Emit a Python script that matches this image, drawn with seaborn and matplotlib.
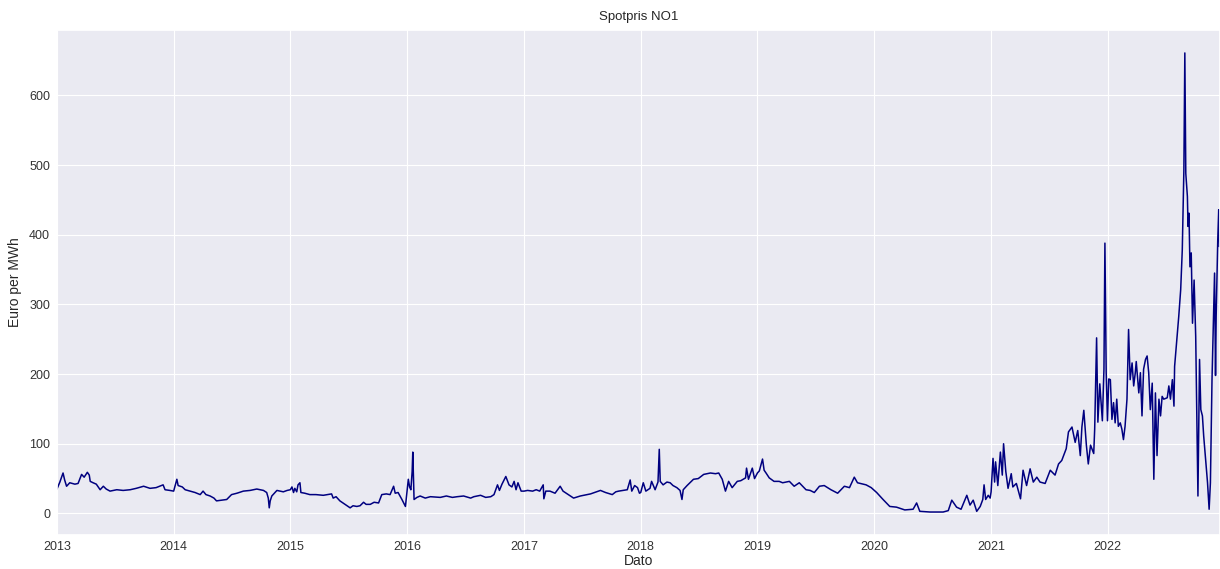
import matplotlib
matplotlib.use("Agg")
import matplotlib.pyplot as plt
import matplotlib.dates as mdates
import seaborn as sns
import pandas as pd

dates = [
    # 2013
    "2013-01-01", "2013-01-10", "2013-01-20", "2013-01-25", "2013-01-31", "2013-02-10", "2013-02-26",
    "2013-03-08", "2013-03-14", "2013-03-19", "2013-03-27", "2013-04-06", "2013-04-12", "2013-04-15",
    "2013-04-24", "2013-05-04", "2013-05-16", "2013-05-26", "2013-06-04", "2013-06-16", "2013-07-07",
    "2013-07-27", "2013-08-18", "2013-09-06", "2013-09-29", "2013-10-19", "2013-11-07", "2013-11-29",
    "2013-12-05", "2013-12-20",
    # 2014
    "2014-01-01", "2014-01-11", "2014-01-15", "2014-01-28", "2014-02-06", "2014-02-22", "2014-03-09",
    "2014-03-25", "2014-04-03", "2014-04-12", "2014-04-25", "2014-05-07", "2014-05-15", "2014-06-01",
    "2014-06-16", "2014-07-01", "2014-07-18", "2014-08-07", "2014-08-28", "2014-09-18", "2014-10-09",
    "2014-10-19", "2014-10-24", "2014-10-27", "2014-10-30", "2014-11-04", "2014-11-20", "2014-12-10",
    "2014-12-22",
    # 2015
    "2015-01-01", "2015-01-06", "2015-01-11", "2015-01-15", "2015-01-21", "2015-01-25", "2015-01-31",
    "2015-02-03", "2015-02-15", "2015-03-03", "2015-03-22", "2015-04-14", "2015-04-28", "2015-05-10",
    "2015-05-15", "2015-05-24", "2015-06-05", "2015-06-21", "2015-07-07", "2015-07-16", "2015-07-28",
    "2015-08-07", "2015-08-18", "2015-08-26", "2015-09-08", "2015-09-20", "2015-10-04", "2015-10-14",
    "2015-10-28", "2015-11-09", "2015-11-20", "2015-11-25", "2015-12-04", "2015-12-16", "2015-12-27",
    # 2016
    "2016-01-05", "2016-01-09", "2016-01-13", "2016-01-17", "2016-01-19", "2016-01-23", "2016-02-01",
    "2016-02-11", "2016-02-27", "2016-03-14", "2016-04-14", "2016-05-03", "2016-05-22", "2016-06-06",
    "2016-06-26", "2016-07-18", "2016-07-28", "2016-08-18", "2016-09-03", "2016-09-19", "2016-09-29",
    "2016-10-10", "2016-10-16", "2016-10-24", "2016-11-05", "2016-11-15", "2016-11-24", "2016-12-01",
    "2016-12-07", "2016-12-13", "2016-12-23",
    # 2017
    "2017-01-01", "2017-01-12", "2017-01-28", "2017-02-08", "2017-02-19", "2017-03-02", "2017-03-04",
    "2017-03-10", "2017-03-23", "2017-04-08", "2017-04-24", "2017-05-03", "2017-05-16", "2017-06-05",
    "2017-06-26", "2017-07-28", "2017-08-28", "2017-09-13", "2017-10-04", "2017-10-15", "2017-10-24",
    "2017-11-06", "2017-11-20", "2017-11-29", "2017-12-04", "2017-12-13", "2017-12-22", "2017-12-28",
    # 2018
    "2018-01-01", "2018-01-09", "2018-01-17", "2018-01-30", "2018-02-04", "2018-02-15", "2018-02-24",
    "2018-02-28", "2018-03-03", "2018-03-12", "2018-03-24", "2018-04-03", "2018-04-12", "2018-04-24",
    "2018-05-04", "2018-05-10", "2018-05-14", "2018-05-26", "2018-06-15", "2018-06-30", "2018-07-17",
    "2018-08-07", "2018-08-23", "2018-09-02", "2018-09-13", "2018-09-23", "2018-10-03", "2018-10-14",
    "2018-10-30", "2018-11-10", "2018-11-25", "2018-11-28", "2018-12-04", "2018-12-16", "2018-12-23",
    # 2019
    "2019-01-01", "2019-01-07", "2019-01-17", "2019-01-22", "2019-01-28", "2019-02-07", "2019-02-22",
    "2019-03-10", "2019-03-21", "2019-04-11", "2019-04-26", "2019-05-12", "2019-06-02", "2019-06-15",
    "2019-06-28", "2019-07-14", "2019-07-29", "2019-08-19", "2019-09-09", "2019-09-30", "2019-10-16",
    "2019-10-31", "2019-11-10", "2019-12-07", "2019-12-23",
    # 2020
    "2020-01-09", "2020-01-19", "2020-01-29", "2020-02-19", "2020-03-11", "2020-04-06", "2020-05-02",
    "2020-05-13", "2020-05-23", "2020-06-24", "2020-08-04", "2020-08-20", "2020-08-31", "2020-09-15",
    "2020-09-29", "2020-10-17", "2020-10-27", "2020-11-06", "2020-11-17", "2020-11-28", "2020-12-06",
    "2020-12-10", "2020-12-15", "2020-12-23", "2020-12-29",
    # 2021
    "2021-01-01", "2021-01-07", "2021-01-12", "2021-01-15", "2021-01-22", "2021-01-30", "2021-02-05",
    "2021-02-09", "2021-02-16", "2021-02-23", "2021-03-05", "2021-03-10", "2021-03-21", "2021-04-03",
    "2021-04-11", "2021-04-22", "2021-05-03", "2021-05-13", "2021-05-24", "2021-06-03", "2021-06-19",
    "2021-07-05", "2021-07-20", "2021-07-31", "2021-08-10", "2021-08-24", "2021-08-31", "2021-09-11",
    "2021-09-21", "2021-09-29", "2021-10-07", "2021-10-12", "2021-10-18", "2021-10-26", "2021-11-01",
    "2021-11-08", "2021-11-18", "2021-11-21", "2021-11-27", "2021-12-01", "2021-12-07", "2021-12-15",
    "2021-12-20", "2021-12-23", "2021-12-27", "2021-12-31",
    # 2022
    "2022-01-04", "2022-01-09", "2022-01-14", "2022-01-19", "2022-01-24", "2022-01-29", "2022-02-03",
    "2022-02-09", "2022-02-14", "2022-02-19", "2022-02-24", "2022-03-02", "2022-03-07", "2022-03-12",
    "2022-03-18", "2022-03-23", "2022-03-28", "2022-03-31", "2022-04-08", "2022-04-13", "2022-04-18",
    "2022-04-23", "2022-04-29", "2022-05-04", "2022-05-09", "2022-05-14", "2022-05-20", "2022-05-25",
    "2022-05-30", "2022-06-04", "2022-06-10", "2022-06-15", "2022-06-20", "2022-06-25", "2022-07-06",
    "2022-07-11", "2022-07-16", "2022-07-22", "2022-07-27", "2022-07-29", "2022-08-04", "2022-08-11",
    "2022-08-17", "2022-08-22", "2022-08-27", "2022-08-30", "2022-09-02", "2022-09-07", "2022-09-09",
    "2022-09-12", "2022-09-15", "2022-09-19", "2022-09-23", "2022-09-28", "2022-10-03", "2022-10-06",
    "2022-10-10", "2022-10-15", "2022-10-19", "2022-10-24", "2022-10-28", "2022-11-04", "2022-11-09",
    "2022-11-14", "2022-11-18", "2022-11-23", "2022-12-01", "2022-12-04", "2022-12-06", "2022-12-11",
    "2022-12-14", "2022-12-16", "2022-12-18",
]

prices = [
    # 2013
    35, 45, 58, 48, 39, 44, 42,
    43, 50, 56, 52, 59, 55, 46,
    44, 42, 34, 39, 35, 32, 34,
    33, 34, 36, 39, 36, 37, 41,
    34, 33,
    # 2014
    32, 49, 40, 38, 34, 32, 30,
    27, 32, 27, 25, 22, 18, 19,
    20, 27, 29, 32, 33, 35, 33,
    30, 22, 8, 18, 25, 33, 31,
    33,
    # 2015
    34, 38, 30, 36, 31, 41, 44,
    30, 29, 27, 27, 26, 27, 28,
    22, 24, 18, 13, 8, 11, 10,
    11, 16, 13, 13, 16, 15, 27,
    28, 27, 39, 29, 30, 20, 10,
    # 2016
    49, 38, 34, 60, 88, 20, 23,
    25, 22, 24, 23, 25, 23, 24,
    25, 22, 24, 26, 23, 24, 27,
    41, 33, 42, 53, 41, 38, 46,
    34, 44, 32,
    # 2017
    32, 33, 32, 34, 32, 41, 21,
    32, 32, 29, 39, 32, 28, 22,
    25, 28, 33, 30, 27, 31, 32,
    33, 34, 48, 32, 40, 37, 29,
    # 2018
    30, 44, 32, 36, 46, 34, 45,
    92, 46, 41, 45, 44, 40, 37,
    33, 20, 34, 40, 49, 50, 56,
    58, 57, 58, 49, 32, 46, 37,
    46, 47, 51, 65, 49, 65, 50,
    # 2019
    58, 61, 78, 62, 58, 51, 46,
    46, 44, 46, 39, 44, 34, 33,
    30, 39, 40, 34, 29, 39, 37,
    52, 44, 41, 37,
    # 2020
    30, 25, 20, 10, 9, 5, 6,
    15, 3, 2, 2, 4, 19, 9,
    6, 26, 12, 19, 3, 10, 20,
    41, 20, 26, 22,
    # 2021
    31, 79, 45, 74, 40, 88, 55,
    100, 60, 36, 57, 38, 43, 21,
    62, 40, 64, 45, 52, 45, 43,
    62, 55, 71, 76, 93, 117, 124,
    102, 119, 83, 124, 148, 98, 71,
    98, 86, 121, 252, 131, 186, 133,
    207, 388, 202, 133,
    # 2022
    193, 192, 135, 159, 130, 164, 125,
    130, 121, 106, 125, 164, 264, 192,
    216, 183, 202, 218, 173, 202, 140,
    207, 221, 226, 202, 149, 187, 49,
    173, 83, 164, 140, 168, 164, 166,
    183, 164, 192, 154, 211, 245, 283,
    321, 378, 493, 661, 488, 455, 412,
    431, 354, 374, 273, 335, 254, 154,
    25, 221, 149, 140, 111, 73, 44,
    6, 44, 192, 345, 198, 283, 393,
    436, 383, 385,
]

title = "Spotpris NO1"
x_label = "Dato"
y_label = "Euro per MWh"

df = pd.DataFrame({"Dato": pd.to_datetime(dates), "Pris": prices})

sns.set_theme(style="darkgrid")
plt.rcParams["font.family"] = ["Liberation Sans", "DejaVu Sans"]
plt.rcParams["grid.linewidth"] = 0.8

fig = plt.figure(figsize=(12.2, 5.69), dpi=100)
ax = fig.add_axes([0.0467, 0.0598, 0.9533, 0.8875])

sns.lineplot(data=df, x="Dato", y="Pris", color="navy", linewidth=1.1, ax=ax)

ax.set_xlim(df["Dato"].iloc[0], df["Dato"].iloc[-1])
ax.xaxis.set_major_locator(mdates.YearLocator())
ax.xaxis.set_major_formatter(mdates.DateFormatter("%Y"))
ax.set_yticks([0, 100, 200, 300, 400, 500, 600])
ax.tick_params(axis="both", labelsize=9, colors="#333333", length=0)
ax.tick_params(axis="x", pad=4)
ax.tick_params(axis="y", pad=5)
ax.set_title(title, fontsize=9.5, color="#262626", pad=7)
ax.set_xlabel(x_label, fontsize=10, color="#262626", labelpad=1)
ax.set_ylabel(y_label, fontsize=10, color="#262626", labelpad=5)

fig.savefig("out.png", dpi=100)
